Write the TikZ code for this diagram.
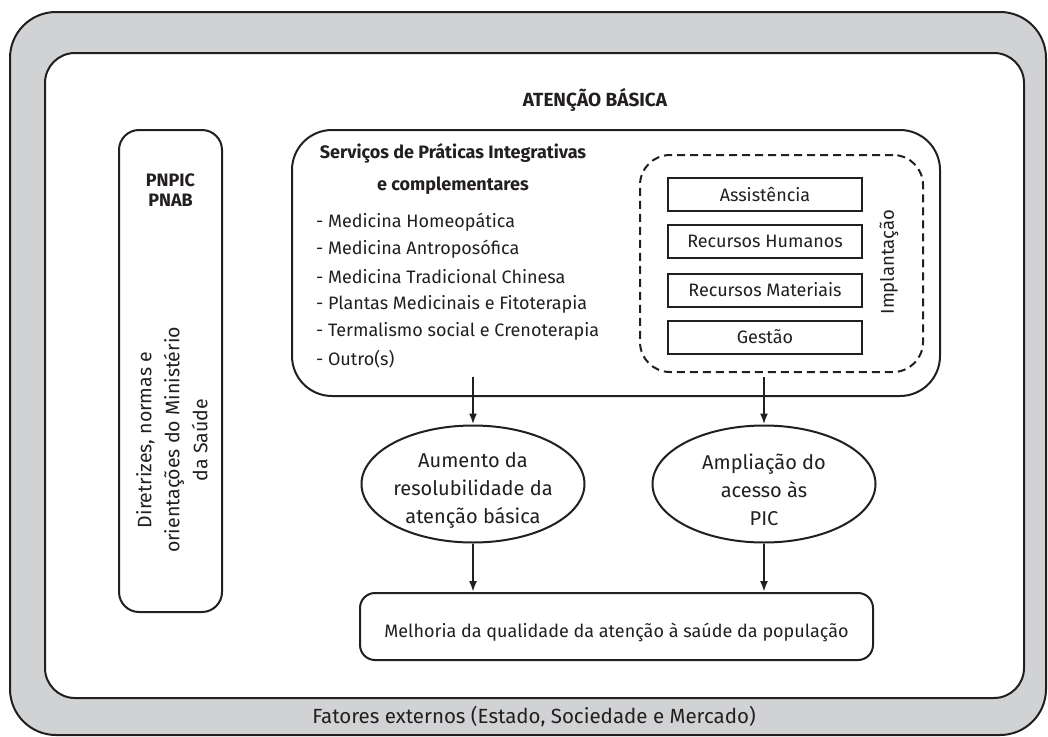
\documentclass[tikz,border=0pt]{standalone}
\usepackage{fontspec}
\setmainfont{Fira Sans}
\usetikzlibrary{shapes.geometric,arrows.meta}
\definecolor{ink}{HTML}{231F20}
\definecolor{faixa}{HTML}{D1D2D4}
\begin{document}
\begin{tikzpicture}[x=1pt,y=-1pt,line width=2pt,
    texto/.style={text=ink,inner sep=0pt,align=center,font=\fontsize{18}{28}\selectfont},
    negrito/.style={texto,font=\fontsize{18}{20}\bfseries\selectfont},
    caixa/.style={draw=ink,rounded corners=#1,inner sep=0pt},
    eixo/.style={draw=ink,inner sep=0pt,minimum width=194,minimum height=33,text=ink,font=\fontsize{18}{20}\selectfont},
    oval/.style={draw=ink,ellipse,inner sep=0pt,minimum width=223,minimum height=117},
    seta/.style={draw=ink,-{Latex[length=11pt,width=8pt]}}]
      \useasboundingbox (0,0) rectangle (1048,736);

      \filldraw[fill=faixa,draw=ink,rounded corners=46pt](10,12) rectangle (1046,735);
      \filldraw[fill=white,draw=ink,rounded corners=30pt](45,53) rectangle (1024,698);
      \node[texto,font=\fontsize{20.5}{24}\selectfont] (fatores) at (534,717) {Fatores externos (Estado, Sociedade e Mercado)};
      \node[negrito,font=\fontsize{19}{22}\bfseries\selectfont] (atencao) at (595,100) {ATENÇÃO BÁSICA};

      \node[caixa=20pt,minimum width=103,minimum height=482] (pnpicbox) at (170.5,371) {};
      \node[negrito] (pnpic) at (170.5,190) {PNPIC\\PNAB};
      \node[texto,font=\fontsize{19.5}{28}\selectfont,rotate=90] (diretrizes) at (172,440) {Diretrizes, normas e\\orientações do Ministério\\da Saúde};

      \node[caixa=40pt,minimum width=648,minimum height=266] (servicos) at (616,263) {};
      \node[negrito,font=\fontsize{18}{32}\bfseries\selectfont] (servicostit) at (453,169) {Serviços de Práticas Integrativas\\e complementares};
      \foreach \txt [count=\i] in {{Medicina Homeopática},{Medicina Antroposófica},{Medicina Tradicional Chinesa},
        {Plantas Medicinais e Fitoterapia},{Termalismo social e Crenoterapia},{Outro(s)}}
        \node[texto,anchor=west] (pratica\i) at (315,{222+27.4*(\i-1)}) {- \txt};

      \node[caixa=30pt,dash pattern=on 8pt off 5pt,minimum width=283,minimum height=217] (implantacao) at (781.5,263.5) {};
      \node[texto,font=\fontsize{18.5}{20}\selectfont,rotate=90] (implantacaotxt) at (889,262) {Implantação};
      \node[eixo] (assistencia) at (765,194.5) {Assistência};
      \node[eixo] (humanos) at (765,241.5) {Recursos Humanos};
      \node[eixo] (materiais) at (765,290) {Recursos Materiais};
      \node[eixo] (gestao) at (765,337) {Gestão};

      \node[oval] (aumento) at (473,484) {};
      \node[texto,font=\fontsize{20}{28}\selectfont] (aumentotxt) at (473,490) {Aumento da\\resolubilidade da\\atenção básica};
      \node[oval] (ampliacao) at (764,484) {};
      \node[texto,font=\fontsize{20}{28}\selectfont] (ampliacaotxt) at (764,490) {Ampliação do\\acesso às\\PIC};

      \node[caixa=15pt,minimum width=513,minimum height=67] (melhoria) at (616.5,626.5) {};
      \node[texto] (melhoriatxt) at (616.5,632) {Melhoria da qualidade da atenção à saúde da população};

      \coordinate (saidaA) at (473,377);
      \coordinate (saidaB) at (764,377);
      \draw[seta] (saidaA) -- (aumento.north);
      \draw[seta] (saidaB) -- (ampliacao.north);
      \draw[seta] (aumento.south) -- (aumento.south |- melhoria.north);
      \draw[seta] (ampliacao.south) -- (ampliacao.south |- melhoria.north);
    \end{tikzpicture}
\end{document}
